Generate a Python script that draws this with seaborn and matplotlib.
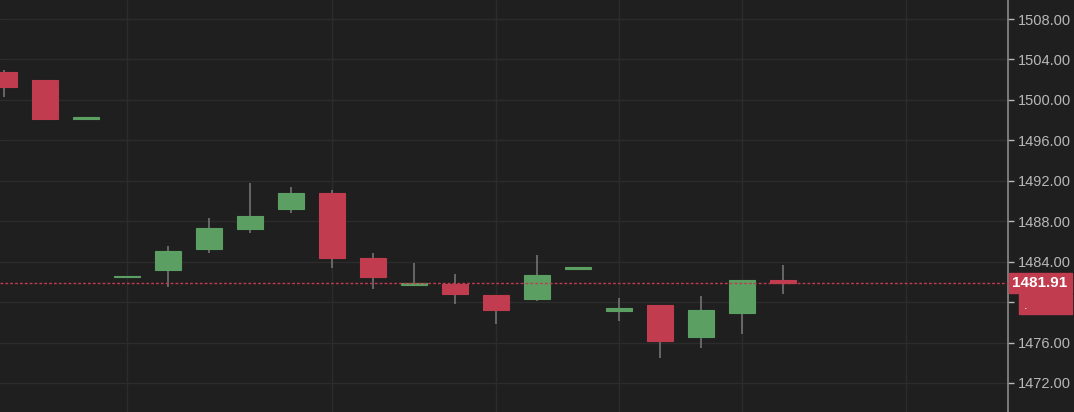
"""Candlestick chart on a dark background, right-hand price axis."""

import matplotlib
matplotlib.use("Agg")
import matplotlib.pyplot as plt
from matplotlib.patches import Rectangle
import numpy as np
import pandas as pd
import seaborn as sns

# candle data (index 0 = left-most, partly cut off)
opens = [1502.73, 1502.00, 1498.15, 1482.50, 1483.17, 1485.25, 1487.23, 1489.24, 1490.82, 1484.39,
         1481.66, 1481.79, 1480.67, 1480.30, 1483.32, 1479.09, 1479.68, 1476.58, 1478.95, 1482.18]
closes = [1501.24, 1498.14, 1498.20, 1482.52, 1485.02, 1487.36, 1488.48, 1490.82, 1484.39, 1482.51,
          1481.92, 1480.80, 1479.19, 1482.65, 1483.34, 1479.45, 1476.12, 1479.22, 1482.18, 1481.91]
highs = [1503.00, 1502.00, 1498.20, 1482.52, 1485.55, 1488.35, 1491.81, 1491.35, 1491.09, 1484.89,
         1483.90, 1482.78, 1480.67, 1484.66, 1483.34, 1480.44, 1479.70, 1480.57, 1482.18, 1483.67]
lows = [1500.28, 1498.14, 1498.15, 1482.50, 1481.46, 1484.89, 1486.86, 1488.84, 1483.40, 1481.29,
        1481.66, 1479.81, 1477.83, 1480.14, 1483.32, 1478.16, 1474.50, 1475.49, 1476.81, 1480.77]
last_price = 1481.91
y_ticks = [1472, 1476, 1480, 1484, 1488, 1492, 1496, 1500, 1504, 1508]
hidden_tick = 1480  # covered by the second marker box
time_grid = [3, 8, 12, 15, 18, 22]

BG = "#1f1f1f"
GRID = "#2c2c2c"
UP = "#5b9f62"
DOWN = "#c13c4e"
WICK = "#737373"
TEXT = "#b8b8b8"


def main() -> None:
    sns.set_theme(style="dark")
    plt.rcParams["font.family"] = ["Liberation Sans", "DejaVu Sans"]

    df = pd.DataFrame({"open": opens, "close": closes, "high": highs, "low": lows})
    df["x"] = np.arange(len(df))
    df["up"] = df["close"] >= df["open"]
    df["color"] = np.where(df["up"], UP, DOWN)
    df["body_lo"] = df[["open", "close"]].min(axis=1)
    df["body_h"] = (df["close"] - df["open"]).abs().clip(lower=0.12)

    fig = plt.figure(figsize=(10.74, 4.12), dpi=100, facecolor=BG)
    ax = fig.add_axes([0, 0, 1008 / 1074, 1])
    ax.set_facecolor(BG)

    for y in y_ticks:
        ax.axhline(y, color=GRID, lw=1, zorder=0)
    for x in time_grid:
        ax.axvline(x, color=GRID, lw=1, zorder=0)

    ax.vlines(df["x"], df["low"], df["high"], color=WICK, lw=1.2, zorder=1)
    ax.bar(df["x"], df["body_h"], bottom=df["body_lo"], width=0.64,
           color=df["color"], edgecolor=df["color"], linewidth=0.8, zorder=2)

    ax.axhline(last_price, color=DOWN, lw=1, ls=(0, (2, 1.5)), zorder=3)

    ax.set_xlim(-0.1, 24.49)
    ax.set_ylim(1469.13, 1509.88)
    ax.set_xticks([])

    ax.yaxis.tick_right()
    ax.set_yticks(y_ticks)
    ax.set_yticklabels(["" if v == hidden_tick else f"{v:.2f}" for v in y_ticks])
    ax.tick_params(axis="y", colors=TEXT, labelcolor=TEXT, labelsize=10.5,
                   length=4, width=1, direction="out", pad=3, right=True)
    for side in ["top", "left", "bottom"]:
        ax.spines[side].set_visible(False)
    ax.spines["right"].set_visible(True)
    ax.spines["right"].set_color("#8a8a8a")
    ax.spines["right"].set_linewidth(1.2)

    # last price label and the second marker box (x in axes fraction, y in data)
    tr = ax.get_yaxis_transform()
    right = 1072 / 1008
    ax.add_patch(Rectangle((1.001, last_price - 0.97), right - 1.001, 1.94, transform=tr,
                           fc=DOWN, ec=DOWN, clip_on=False, zorder=5))
    ax.text((1.0 + right) / 2, last_price, f"{last_price:.2f}", transform=tr,
            ha="center", va="center", color="white", fontsize=11, fontweight="bold",
            clip_on=False, zorder=6)
    ax.add_patch(Rectangle((1019 / 1008, 1478.82), right - 1019 / 1008, 1.98, transform=tr,
                           fc=DOWN, ec=DOWN, clip_on=False, zorder=5))
    ax.text(1024 / 1008, 1479.6, ".", transform=tr, ha="left", va="center",
            color="white", fontsize=9, clip_on=False, zorder=6)

    fig.savefig("out.png", dpi=100, facecolor=BG)
    plt.close(fig)


if __name__ == "__main__":
    main()
